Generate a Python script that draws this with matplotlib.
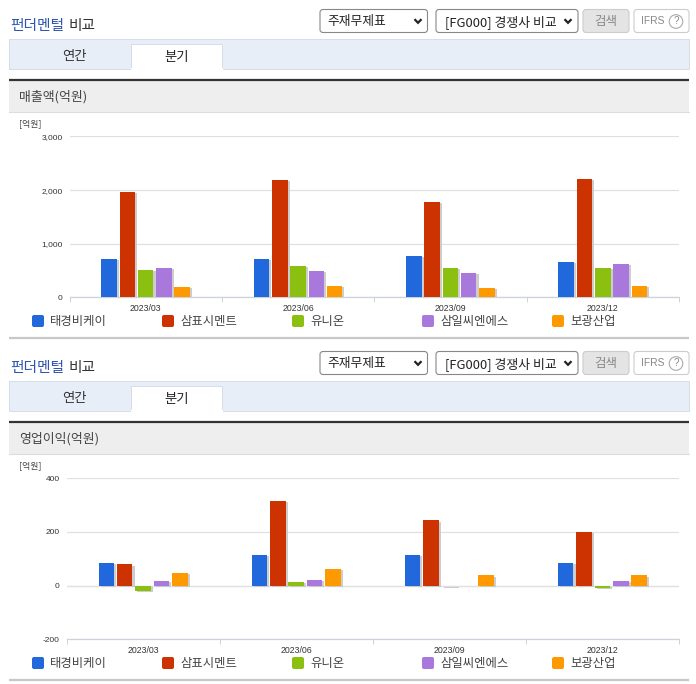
import matplotlib
matplotlib.use("Agg")
import matplotlib.pyplot as plt
import matplotlib.patheffects as pe
from matplotlib.patches import FancyBboxPatch, Rectangle, Circle

KR = ['Noto Sans CJK KR', 'DejaVu Sans']
plt.rcParams['font.family'] = KR

quarters = ['2023/03', '2023/06', '2023/09', '2023/12']
companies = ['태경비케이', '삼표시멘트', '유니온', '삼일씨엔에스', '보광산업']
colors = ['#2068DC', '#CC3300', '#8CC010', '#A878DC', '#FF9900']

sales_taegyeong = [715, 715, 770, 658]
sales_sampyo = [1960, 2185, 1775, 2204]
sales_union = [510, 580, 546, 546]
sales_samil = [545, 490, 453, 620]
sales_bogwang = [190, 210, 174, 211]
sales = [sales_taegyeong, sales_sampyo, sales_union, sales_samil, sales_bogwang]

profit_taegyeong = [83, 113, 113, 83]
profit_sampyo = [79, 314, 243, 200]
profit_union = [-20, 13, -3, -8]
profit_samil = [17, 20, 0, 17]
profit_bogwang = [46, 61, 38, 38]
profit = [profit_taegyeong, profit_sampyo, profit_union, profit_samil, profit_bogwang]

W, H = 696, 684
fig = plt.figure(figsize=(W / 100, H / 100), dpi=100, facecolor='white')
ui = fig.add_axes([0, 0, 1, 1], zorder=0)
ui.set_xlim(0, W)
ui.set_ylim(H, 0)
ui.axis('off')


def rbox(x0, y0, x1, y1, fc, ec, r=3, lw=0.8):
    ui.add_patch(FancyBboxPatch((x0 + r, y0 + r), x1 - x0 - 2 * r, y1 - y0 - 2 * r,
                                boxstyle=f'round,pad={r},rounding_size={r}',
                                fc=fc, ec=ec, lw=lw))


def rect(x0, y0, x1, y1, fc, ec='none', lw=0.7):
    ui.add_patch(Rectangle((x0, y0), x1 - x0, y1 - y0, fc=fc, ec=ec, lw=lw))


def chevron(x, y):
    ui.plot([x - 3.5, x, x + 3.5], [y - 1.8, y + 1.8, y - 1.8], color='#222222', lw=1.6,
            solid_capstyle='butt', solid_joinstyle='miter')


def section(dy, title):
    ui.text(10, 26 + dy, '펀더멘털', color='#2F55B0', fontsize=10.6, fontweight='medium', va='center')
    ui.text(69, 26 + dy, '비교', color='#333333', fontsize=10.6, fontweight='medium', va='center')
    rbox(320, 9.5 + dy, 427.5, 32.5 + dy, 'white', '#888888')
    ui.text(327, 22 + dy, '주재무제표', color='#222222', fontsize=9.2, va='center')
    chevron(418, 21 + dy)
    rbox(436, 9.5 + dy, 578, 32.5 + dy, 'white', '#888888')
    ui.text(445, 22 + dy, '[FG000] 경쟁사 비교', color='#222222', fontsize=9.3, va='center')
    chevron(568, 21 + dy)
    rbox(583, 9.5 + dy, 629, 32.5 + dy, '#E4E4E4', '#CCCCCC')
    ui.text(606, 21.5 + dy, '검색', color='#888888', fontsize=9, ha='center', va='center')
    rbox(634, 9.5 + dy, 689, 32.5 + dy, 'white', '#CCCCCC')
    ui.text(641, 21 + dy, 'IFRS', color='#888888', fontsize=7.4, va='center', family='Liberation Sans')
    ui.add_patch(Circle((676, 21.5 + dy), 6.8, fc='white', ec='#AAAAAA', lw=0.8))
    ui.text(676, 21.5 + dy, '?', color='#888888', fontsize=7, ha='center', va='center', family='Liberation Sans')

    rect(9, 39 + dy, 689, 68.5 + dy, '#E8EEF8', '#D5DDE8')
    rect(131, 44 + dy, 222, 69 + dy, 'white', '#D5DDE8')
    ui.plot([131.5, 221.5], [69 + dy, 69 + dy], color='white', lw=1.5)
    ui.text(74, 56 + dy, '연간', color='#333333', fontsize=9.6, ha='center', va='center')
    ui.text(177, 57 + dy, '분기', color='#222222', fontsize=9.6, ha='center', va='center')

    rect(9, 81 + dy, 689, 111.5 + dy, '#EEEEEE')
    ui.plot([9, 689], [111.5 + dy, 111.5 + dy], color='#DDDDDD', lw=0.8)
    ui.plot([9, 689], [80 + dy, 80 + dy], color='#333333', lw=1.6, solid_capstyle='butt')
    ui.text(19, 97 + dy, title, color='#444444', fontsize=9.3, va='center')
    ui.text(19.5, 124 + dy, '[억원]', color='#444444', fontsize=6.4, va='center')

    for i, name in enumerate(companies):
        x = 32 + 130 * i
        rbox(x, 315 + dy, x + 12, 327 + dy, colors[i], colors[i], r=2, lw=0)
        ui.text(x + 18, 322 + dy, name, color='#444444', fontsize=8.9, va='center')
    ui.plot([9, 689], [338 + dy, 338 + dy], color='#C8C8C8', lw=1.6, solid_capstyle='butt')


def chart(x0, x1, ytop, ybot, ylim, ticks, series):
    ax = fig.add_axes([x0 / W, 1 - ybot / H, (x1 - x0) / W, (ybot - ytop) / H], zorder=2)
    ax.patch.set_alpha(0)
    ax.set_xlim(-0.5, 3.5)
    ax.set_ylim(*ylim)
    for s in ax.spines.values():
        s.set_visible(False)
    ax.set_yticks(ticks)
    ax.set_yticklabels([f'{t:,}' for t in ticks], family='Liberation Sans', fontsize=6.0, color='#333333')
    ax.tick_params(axis='y', length=0, pad=5)
    ax.grid(axis='y', color='#E0E0E4', lw=0.9)
    ax.set_axisbelow(True)
    ax.spines['bottom'].set_visible(True)
    ax.spines['bottom'].set_color('#CDD3DC')
    ax.spines['bottom'].set_linewidth(0.9)
    ax.set_xticks([-0.5, 0.5, 1.5, 2.5, 3.5])
    ax.set_xticklabels([])
    ax.set_xticks([0, 1, 2, 3], minor=True)
    ax.set_xticklabels(quarters, minor=True, family='Liberation Sans', fontsize=6.3, color='#333333')
    ax.tick_params(axis='x', which='major', length=3.5, width=0.7, color='#CDD3DC', direction='out')
    ax.tick_params(axis='x', which='minor', length=0, pad=5)
    shadow = [pe.SimplePatchShadow(offset=(1.5, -0.8), shadow_rgbFace='#C8C8C8', alpha=0.9), pe.Normal()]
    for i, vals in enumerate(series):
        xs = [k + (i - 2) * 0.12 for k in range(len(quarters))]
        bars = ax.bar(xs, vals, width=0.102, color=colors[i], zorder=3)
        for b in bars:
            b.set_path_effects(shadow)
    return ax


section(0, '매출액(억원)')
section(342, '영업이익(억원)')
chart(69.5, 679, 136.5, 297.3, (0, 3000), [0, 1000, 2000, 3000], sales)
ax2 = chart(66.5, 679, 478.3, 639.3, (-200, 400), [-200, 0, 200, 400], profit)
ax2.axhline(0, color='#E0E0E4', lw=0.9, zorder=1)

fig.savefig('out.png', dpi=100)
